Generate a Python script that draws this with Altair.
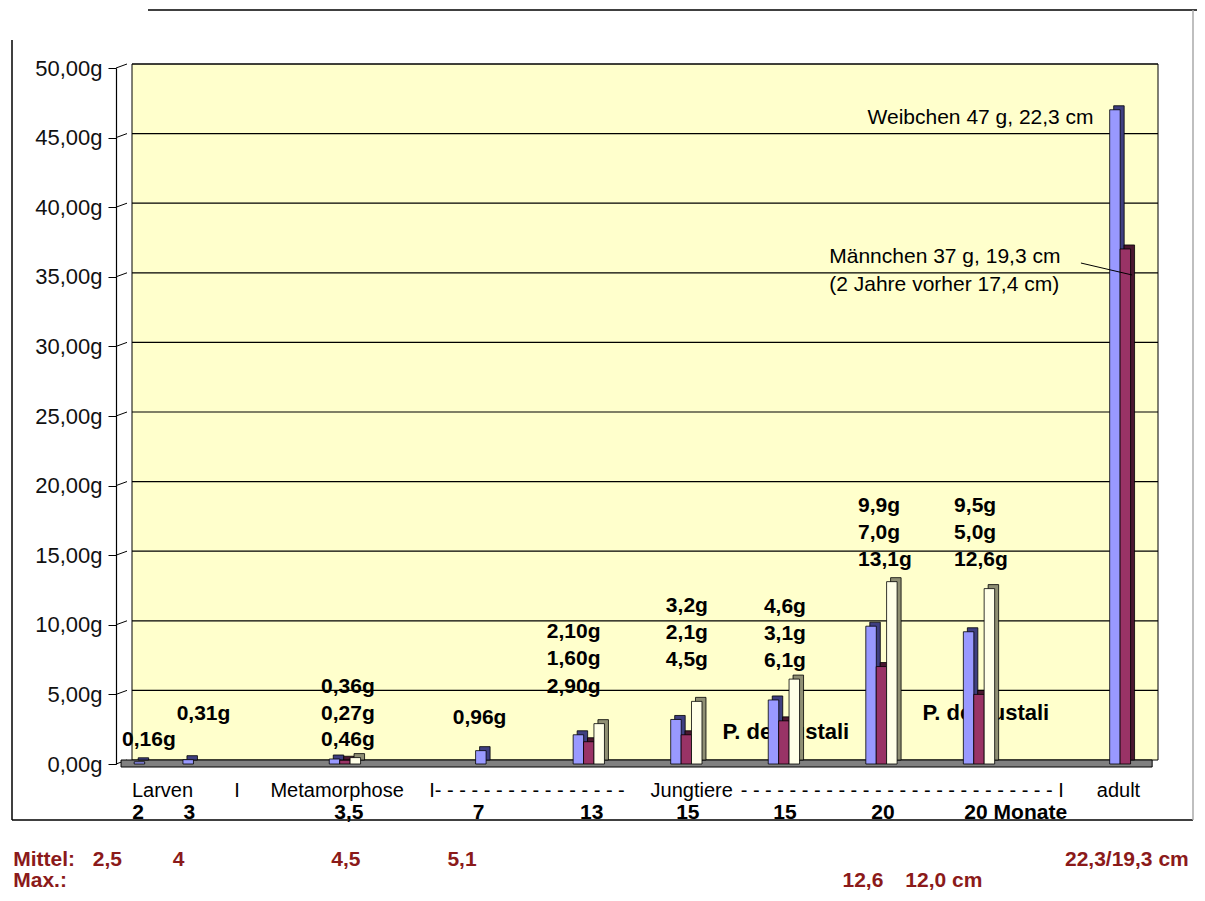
import altair as alt
import pandas as pd

# ---------------- data ----------------
slots = [0, 1, 4, 7, 9, 11, 13, 15, 17, 20]
series_names = ["Reihe 1", "Reihe 2", "Reihe 3"]
reihe1 = [0.16, 0.31, 0.36, 0.96, 2.10, 3.2, 4.6, 9.9, 9.5, 47.0]
reihe2 = [None, None, 0.27, None, 1.60, 2.1, 3.1, 7.0, 5.0, 37.0]
reihe3 = [None, None, 0.46, None, 2.90, 4.5, 6.1, 13.1, 12.6, None]
y_ticks = [0, 5, 10, 15, 20, 25, 30, 35, 40, 45, 50]

value_text = ["0,16g", "0,31g", "0,36g", "0,27g", "0,46g", "0,96g",
              "2,10g", "1,60g", "2,90g", "3,2g", "2,1g", "4,5g",
              "4,6g", "3,1g", "6,1g", "9,9g", "7,0g", "13,1g",
              "9,5g", "5,0g", "12,6g"]
value_x = [-0.57, 0.55, 3.51, 3.51, 3.51, 6.21,
           8.14, 8.14, 8.14, 10.58, 10.58, 10.58,
           12.59, 12.59, 12.59, 14.52, 14.52, 14.52,
           16.49, 16.49, 16.49]
value_y = [1.7, 3.6, 5.5, 3.6, 1.7, 3.3,
           9.45, 7.55, 5.55, 11.35, 9.4, 7.45,
           11.3, 9.35, 7.4, 18.55, 16.6, 14.65,
           18.55, 16.6, 14.65]

species_text = ["P. deloustali", "P. deloustali"]
species_x = [11.74, 15.84]
species_y = [2.3, 3.66]

phase_text = ["Larven", "I", "Metamorphose", "Jungtiere", "adult"]
phase_x = [0.26, 1.79, 3.84, 11.11, 19.86]
dash_left_text = ["I-" + " -" * 15]
dash_left_x = [5.73]
dash_right_text = ["- " * 26 + " I"]
dash_right_x = [18.74]
phase_y = -1.95

age_text = ["2", "3", "3,5", "7", "13", "15", "15", "20"]
age_x = [-0.24, 0.81, 4.08, 6.74, 9.06, 11.03, 13.02, 15.03]
age_last_text = ["20 Monate"]
age_last_x = [16.7]
age_y = -3.5

mittel_text = ["Mittel:", "2,5", "4", "4,5", "5,1"]
mittel_x = [-2.80, -0.87, 0.59, 4.02, 6.40]
mittel_right_text = ["22,3/19,3 cm"]
mittel_right_x = [21.3]
mittel_y = -6.9
max_text = ["Max.:", "12,6", "12,0  cm"]
max_x = [-2.80, 14.62, 15.49]
max_y = -8.41

note_right_text = ["Weibchen 47 g, 22,3 cm"]
note_right_x = [19.35]
note_right_y = [46.4]
note_left_text = ["Männchen 37 g, 19,3 cm", "(2 Jahre vorher 17,4 cm)"]
note_left_x = [13.93, 13.93]
note_left_y = [36.4, 34.4]
leader_x = [19.09]
leader_x2 = [20.14]
leader_y = [35.99]
leader_y2 = [35.13]

# ---------------- styling ----------------
series_colors = ["#9999FF", "#993366", "#FFFFE8"]
side_colors = ["#3F3F80", "#4A1730", "#8F8F74"]
X_MIN, X_MAX = -0.3655, 20.67
FLOOR_L, FLOOR_R = -0.59, 20.55
BAR_STEP = 0.2132
FONT = "Liberation Sans"
RED = "#8B1A1A"

xs = alt.Scale(domain=[X_MIN, X_MAX], nice=False, zero=False)
ys = alt.Scale(domain=[0, 50], nice=False, zero=False)
y_axis = alt.Axis(values=y_ticks, offset=11, grid=False, tickSize=8,
                  tickColor="#000", domainColor="#000", domainWidth=1.2,
                  labelExpr="replace(format(datum.value, '.2f'), '.', ',') + 'g'",
                  labelFont=FONT, labelFontSize=22, labelColor="#111",
                  labelPadding=6, title=None, zindex=1)
X = lambda f: alt.X(f, type="quantitative", scale=xs, axis=None)
Y = lambda f: alt.Y(f, type="quantitative", scale=ys, axis=y_axis)

rows = []
for i, s in enumerate(slots):
    for k, vals in enumerate([reihe1, reihe2, reihe3]):
        if vals[i] is not None:
            rows.append({"pos": s + (k - 1) * BAR_STEP, "value": vals[i],
                         "serie": series_names[k]})
bars_df = pd.DataFrame(rows)

wall = alt.Chart(pd.DataFrame({"x": [X_MIN], "x2": [X_MAX], "y": [0], "y2": [50]})).mark_rect(
    fill="#FFFFCC", stroke="#000", strokeWidth=1, yOffset=-4, y2Offset=-4
).encode(x=X("x"), x2="x2", y=Y("y"), y2="y2")

grid_df = pd.DataFrame({"v": y_ticks[1:], "x": X_MIN, "x2": X_MAX})
grid = alt.Chart(grid_df).mark_rule(color="#000", strokeWidth=1.2, yOffset=-4).encode(
    x=X("x"), x2="x2", y=Y("v"))
conn = alt.Chart(pd.DataFrame({"v": y_ticks})).mark_rule(color="#000", strokeWidth=1, y2Offset=-4).encode(
    x=alt.value(-11), x2=alt.value(0), y=Y("v"), y2="v")

floor = alt.Chart(pd.DataFrame({"x": [FLOOR_L], "x2": [FLOOR_R], "y": [0]})).mark_rect(
    fill="#808080", stroke="#000", strokeWidth=1, yOffset=-4, y2Offset=3
).encode(x=X("x"), x2="x2", y=Y("y"), y2="y")

def texts(txt, xv, yv, align="left", size=21, weight="bold", color="#000"):
    if not isinstance(yv, list):
        yv = [yv] * len(txt)
    df = pd.DataFrame({"t": txt, "x": xv, "y": yv})
    return alt.Chart(df).mark_text(align=align, baseline="middle", font=FONT,
                                   fontSize=size, fontWeight=weight, color=color).encode(
        x=X("x"), y=Y("y"), text="t:N")

species = texts(species_text, species_x, species_y, size=22)

shadow = alt.Chart(bars_df).mark_bar(size=10.5, xOffset=4, yOffset=-4, stroke="#000", strokeWidth=0.8).encode(
    x=X("pos"), y=Y("value"),
    fill=alt.Fill("serie:N", scale=alt.Scale(domain=series_names, range=side_colors), legend=None))
bars = alt.Chart(bars_df).mark_bar(size=10.5, stroke="#000", strokeWidth=0.8).encode(
    x=X("pos"), y=Y("value"),
    color=alt.Color("serie:N", scale=alt.Scale(domain=series_names, range=series_colors), legend=None))

vals = texts(value_text, value_x, value_y, size=21)
notes_r = texts(note_right_text, note_right_x, note_right_y, align="right", size=21, weight="normal")
notes_l = texts(note_left_text, note_left_x, note_left_y, size=21, weight="normal")
leader = alt.Chart(pd.DataFrame({"x": leader_x, "x2": leader_x2, "y": leader_y, "y2": leader_y2})).mark_rule(
    color="#000", strokeWidth=1).encode(x=X("x"), x2="x2", y=Y("y"), y2="y2")

phase = texts(phase_text, phase_x, phase_y, align="center", size=20, weight="normal")
dash_l = texts(dash_left_text, dash_left_x, phase_y, size=20, weight="normal")
dash_r = texts(dash_right_text, dash_right_x, phase_y, align="right", size=20, weight="normal")
ages = texts(age_text, age_x, age_y, align="center", size=21)
ages_last = texts(age_last_text, age_last_x, age_y, size=21)
mittel = texts(mittel_text[:1], mittel_x[:1], mittel_y, size=21, color=RED)
mittel_v = texts(mittel_text[1:], mittel_x[1:], mittel_y, align="center", size=21, color=RED)
mittel_r = texts(mittel_right_text, mittel_right_x, mittel_y, align="right", size=21, color=RED)
maxl = texts(max_text[:1], max_x[:1], max_y, size=21, color=RED)
maxc = texts(max_text[1:2], max_x[1:2], max_y, align="center", size=21, color=RED)
maxr = texts(max_text[2:], max_x[2:], max_y, size=21, color=RED)

one = pd.DataFrame({"a": [0]})
frame = [
    alt.Chart(one).mark_rule(color="#000", strokeWidth=1.5).encode(
        x=alt.value(-115), y=alt.value(-28), y2=alt.value(752)),
    alt.Chart(one).mark_rule(color="#000", strokeWidth=1.5).encode(
        x=alt.value(21), x2=alt.value(1070), y=alt.value(-58)),
    alt.Chart(one).mark_rule(color="#000", strokeWidth=1.5).encode(
        x=alt.value(-115), x2=alt.value(1066), y=alt.value(752)),
    alt.Chart(one).mark_rule(color="#AAAAAA", strokeWidth=1.5).encode(
        x=alt.value(1066), y=alt.value(-58), y2=alt.value(752)),
]

chart = alt.layer(
    wall, grid, conn, floor, species, shadow, bars, vals, notes_r, notes_l, leader,
    phase, dash_l, dash_r, ages, ages_last, mittel, mittel_v, mittel_r, maxl, maxc, maxr,
    *frame
).resolve_scale(color="independent", fill="independent").properties(
    width=1036, height=696,
    autosize=alt.AutoSizeParams(type="none"),
    padding={"left": 119, "top": 60, "right": 34, "bottom": 128},
    background="#FFFFFF",
).configure_view(stroke=None)

chart.save("out.html", embed_options={"renderer": "svg", "actions": False})
